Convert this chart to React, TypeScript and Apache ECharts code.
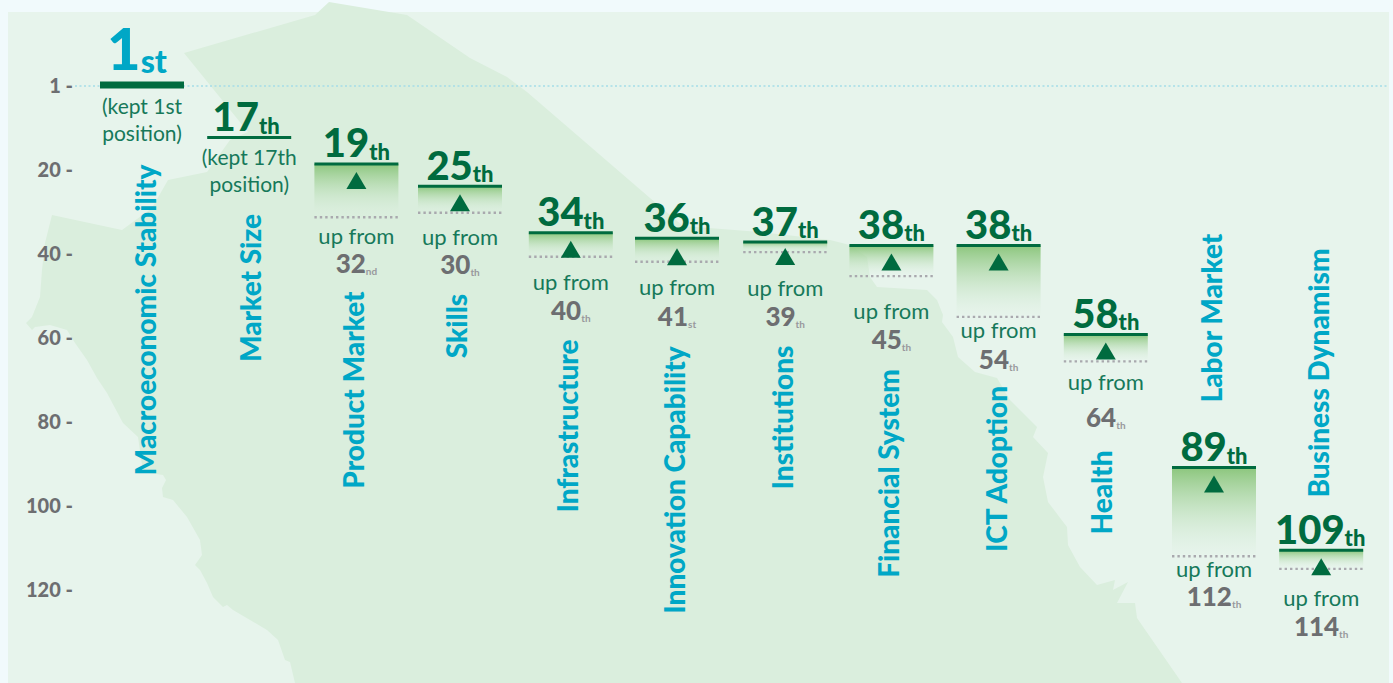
import React, { useEffect, useRef } from "react";
import * as echarts from "echarts";

const categories = ["Macroeconomic Stability","Market Size","Product Market","Skills","Infrastructure","Innovation Capability","Institutions","Financial System","ICT Adoption","Health","Labor Market","Business Dynamism"];
const currentRank = ["1","17","19","25","34","36","37","38","38","58","89","109"];
const currentSuffix = ["st","th","th","th","th","th","th","th","th","th","th","th"];
const previousRank = ["1","17","32","30","40","41","39","45","54","64","112","114"];
const previousSuffix = ["st","th","nd","th","th","st","th","th","th","th","th","th"];
const barTop = [0,12.5,18.8,24.1,35.2,36.5,37.4,38.2,38.2,59.4,91.1,110.8];
const barBottom = [0,12.5,31.5,30.4,40.9,42.1,39.8,45.5,55.2,65.8,112.2,115.2];
const yTicks = [0,20,40,60,80,100,120];
const yTickLabels = ["1","20","40","60","80","100","120"];

// layout (pixels)
const columnNudge = [0,0,0,-3.6,0,-1,0,-1,-1,-1,0,0];
const triangleGap = [0,0,9,9,9,11,7,9,9,9,9,9];
const rankNudge = [-5,-3,0,0,0,0,0,0,0,0,0,-1];
const upFromGap = [0,0,18,23.5,25,25,35,34,13,20,12,29];
const priorGap = [0,0,28,28,28,29,29,29,29,36,28,28];
const nameX = [145,250,353,456,567,674,782,888,996,1101,1211,1318];
const nameY = [320,288,390,326,426,480,417.5,473.5,469,492.5,318,373];
const TEAL = "#00a7c6", GREEN = "#006b3f", SOFT = "#16795a", GREY = "#6d6e71";
const FONT = "Lato";

const mapOutline: number[][] = [[184,53],[315,15],[329,2],[407,15],[470,58],[507,77],[527,92],[650,198],[683,226],[760,232],[830,240],[850,245],[867,257],[870,277],[877,287],[927,290],[937,300],[943,315],[942,322],[953,337],[958,357],[975,372],[997,378],[1010,400],[1037,427],[1033,437],[1048,453],[1043,477],[1048,502],[1067,527],[1068,545],[1080,567],[1097,585],[1115,580],[1113,590],[1128,582],[1117,603],[1135,603],[1137,618],[1182,683],[295,683],[290,662],[285,660],[278,640],[267,630],[233,610],[227,605],[223,607],[213,597],[207,583],[200,570],[195,565],[202,555],[200,540],[187,517],[173,500],[163,497],[162,488],[166,480],[163,475],[143,472],[138,437],[123,423],[107,393],[97,378],[87,360],[75,343],[67,330],[50,325],[35,327],[32,330],[26,323],[32,317],[40,297],[42,270],[45,243],[52,215],[122,230],[152,208],[168,180],[207,172],[230,140],[248,132]];

function renderColumn(params: any, api: any) {
  const i = params.dataIndex;
  const [cx0, top] = api.coord([i, barTop[i]]);
  const bottom = api.coord([i, barBottom[i]])[1];
  const cx = cx0 + columnNudge[i];
  const left = cx - 42, w = 84;
  const kept = i < 2;
  const children: any[] = [];
  const thick = i === 0 ? 7 : 3;
  const big = i === 0 ? 58 : 40;
  const small = i === 0 ? 32 : 22;
  const col = i === 0 ? TEAL : GREEN;

  if (!kept) {
    children.push({ type: "rect", shape: { x: left, y: top, width: w, height: bottom - top - 2 }, style: { fill: { type: "linear", x: 0, y: 0, x2: 0, y2: 1, colorStops: [{ offset: 0, color: "#8cc67d" }, { offset: 1, color: "rgba(222,240,226,0.15)" }] } } });
    children.push({ type: "line", shape: { x1: left, y1: bottom, x2: left + w, y2: bottom }, style: { stroke: "#a9a9ae", lineWidth: 2.4, lineDash: [2.4, 3] } });
  }
  children.push({ type: "rect", shape: { x: left, y: top - thick / 2, width: w, height: thick }, style: { fill: GREEN } });
  if (!kept) {
    const ty = top - 1 + triangleGap[i];
    children.push({ type: "polygon", shape: { points: [[cx, ty], [cx + 10, ty + 17], [cx - 10, ty + 17]] }, style: { fill: GREEN } });
  }
  children.push({
    type: "text", x: cx + rankNudge[i], y: top - thick / 2 - (i === 0 ? 5 : 0),
    style: { text: `{a|${currentRank[i]}}{b|${currentSuffix[i]}}`, align: "center", verticalAlign: "bottom",
      rich: { a: { fontFamily: FONT, fontWeight: 900, fontSize: big, fill: col, lineHeight: big }, b: { fontFamily: FONT, fontWeight: 900, fontSize: small, fill: col, lineHeight: big, verticalAlign: "bottom" } } },
  });
  if (kept) {
    ["(kept " + previousRank[i] + (i === 0 ? "st" : "th"), "position)"].forEach((t, k) => {
      children.push({ type: "text", x: cx, y: top + (i === 0 ? 20 : 19) + k * 27, style: { text: t, align: "center", verticalAlign: "middle", fontFamily: FONT, fontSize: 21, fontWeight: 400, fill: SOFT } });
    });
  } else {
    const upY = bottom + upFromGap[i];
    children.push({ type: "text", x: cx, y: upY, style: { text: "up from", align: "center", verticalAlign: "middle", fontFamily: FONT, fontSize: 22, fontWeight: 400, fill: SOFT } });
    children.push({
      type: "text", x: cx, y: upY + priorGap[i],
      style: { text: `{a|${previousRank[i]}}{b|${previousSuffix[i]}}`, align: "center", verticalAlign: "middle",
        rich: { a: { fontFamily: FONT, fontWeight: 900, fontSize: 26, fill: GREY, lineHeight: 26 }, b: { fontFamily: FONT, fontWeight: 700, fontSize: 10, fill: "#98989c", lineHeight: 26, verticalAlign: "bottom" } } },
    });
  }
  children.push({ type: "text", x: nameX[i], y: nameY[i], rotation: Math.PI / 2, scaleX: 0.965, style: { text: categories[i], align: "center", verticalAlign: "middle", fontFamily: FONT, fontSize: 29, fontWeight: 900, fill: TEAL } });
  return { type: "group", children };
}

function renderRule(_params: any, api: any) {
  const y = api.coord([0, 0])[1] + 1;
  return { type: "line", shape: { x1: 75, y1: y, x2: 1389, y2: y }, style: { stroke: "#a5dde8", lineWidth: 1.5, lineDash: [2, 2.5] } };
}

export default function App() {
  const ref = useRef<HTMLDivElement>(null);
  useEffect(() => {
    document.body.style.margin = "0";
    const chart = echarts.init(ref.current!, null, { renderer: "svg" });
    chart.setOption({
      animation: false,
      backgroundColor: "#f1fafc",
      graphic: [
        { type: "rect", silent: true, z: -2, shape: { x: 8, y: 12, width: 1381, height: 671 }, style: { fill: "#e7f4ec" } },
        { type: "polygon", silent: true, z: -1, shape: { points: mapOutline }, style: { fill: "#daeedd" } },
      ],
      grid: { left: 88.4, right: 18.2, top: 85, height: 504 },
      xAxis: { type: "category", data: categories, show: false },
      yAxis: {
        type: "value", inverse: true, min: 0, max: 120, interval: 20,
        axisLine: { show: false }, axisTick: { show: false }, splitLine: { show: false },
        axisLabel: { margin: 15.4, color: GREY, fontFamily: FONT, fontWeight: 900, fontSize: 20, align: "right", padding: [0, 0, 2, 0],
          formatter: (v: number) => `${yTickLabels[yTicks.indexOf(v)]} -` },
      },
      series: [
        { type: "custom", silent: true, z: 2, clip: false, renderItem: renderRule, data: [[0, 0]], encode: { x: 0, y: 1 } },
        { type: "custom", silent: true, z: 3, clip: false, renderItem: renderColumn, data: categories.map((c, i) => [c, barTop[i]]), encode: { x: 0, y: 1 } },
      ],
    });
    return () => chart.dispose();
  }, []);
  return <div ref={ref} style={{ width: 1393, height: 683 }} />;
}
